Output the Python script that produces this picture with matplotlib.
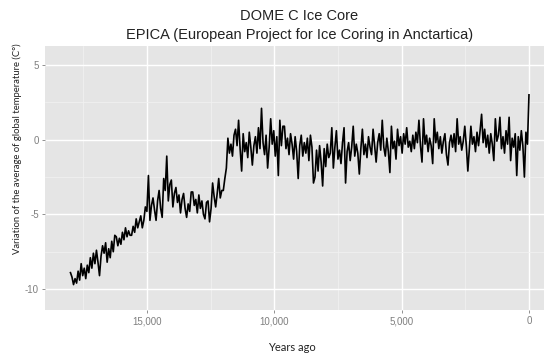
import numpy as np
import matplotlib
matplotlib.use("Agg")
import matplotlib.pyplot as plt

plt.rcParams['axes.unicode_minus'] = False

# temperature anomaly, one value every 60 years from 18,000 to 0 years ago
years = np.arange(18000, -1, -60)
temp = [
    -8.9, -9.2, -9.7, -9.3, -9.6, -8.8, -9.4, -8.3, -9.1, -8.6,
    -9.3, -8.4, -8.9, -7.9, -8.6, -7.6, -8.3, -7.4, -8.2, -9.1,
    -7.8, -7.1, -7.6, -6.9, -8.2, -7.3, -7.9, -6.8, -7.5, -6.4,
    -6.5, -7.1, -6.6, -7.0, -6.2, -6.7, -5.9, -6.5, -6.1, -6.4,
    -6.4, -5.8, -6.2, -5.3, -5.9, -5.5, -5.1, -5.9, -5.4, -4.5,
    -4.8, -2.4, -5.4, -4.4, -3.9, -4.7, -5.4, -4.1, -3.4, -4.6,
    -5.2, -2.6, -3.4, -1.1, -4.1, -3.0, -2.7, -4.5, -3.6, -3.2,
    -4.2, -3.7, -4.9, -4.0, -3.6, -4.6, -5.2, -4.3, -4.8, -3.5,
    -3.5, -4.4, -4.0, -4.9, -3.7, -4.6, -4.1, -5.0, -5.3, -4.2,
    -4.1, -5.5, -4.6, -2.9, -3.8, -4.5, -3.6, -2.6, -3.9, -3.4,
    -3.4, -2.6, -1.9, 0.1, -0.9, -0.3, -1.1, 0.3, 0.7, -0.4,
    1.3, -0.6, -2.1, 0.4, -0.8, -0.2, -1.2, 0.5, -0.5, -1.7,
    -0.4, 0.2, -0.9, 0.8, -0.6, 2.1, -0.2, -1.0, 0.3, -1.9,
    -0.5, 1.4, -0.3, 0.6, -1.1, 0.2, -2.4, 1.3, -0.4, 0.9,
    0.9, -0.6, 0.1, -1.0, 0.4, -0.3, -1.3, 0.2, -0.8, -2.6,
    -0.4, 0.3, -1.1, -0.2, -0.9, 0.1, -1.4, 0.3, -0.5, -2.9,
    -2.5, -0.7, -2.1, -0.4, -1.5, -3.1, -0.6, -1.8, -0.3, -1.2,
    -0.9, 0.8, -1.9, -0.5, 0.6, -1.3, -0.7, -1.6, -0.2, 0.8,
    -2.9, -0.8, -0.2, -1.4, -0.5, 0.9, -1.1, -0.3, -0.9, -2.3,
    -0.6, 0.7, -1.0, -0.3, -1.2, 0.2, -0.5, -1.0, 0.7, -0.4,
    -1.5, -0.2, 0.4, -0.7, 1.3, -0.5, -1.1, 0.1, -0.8, -2.2,
    0.9, -0.6, -0.1, -1.3, 0.7, -0.4, 0.2, -0.9, 0.4, -0.3,
    0.8, -0.5, -0.1, -0.8, 0.3, -0.6, 0.5, -0.2, 1.3, -0.4,
    -1.5, 1.4, -0.3, 0.3, -0.8, 0.1, -0.4, -1.6, 1.4, -0.2,
    0.5, -0.6, 0.2, -0.9, -0.1, 0.4, -1.0, -1.7, -0.2, 0.3,
    -0.5, 0.4, -0.8, 1.4, -0.3, 0.2, -0.7, -0.1, 0.9, -0.4,
    -2.1, -0.6, 0.9, -0.3, 0.2, -0.8, 0.5, -0.4, 0.6, 1.7,
    -0.2, 0.7, -0.5, 0.3, -0.9, 0.4, -0.3, -1.4, 1.4, -0.1,
    0.3, 1.5, -0.6, 0.2, -0.9, 0.6, -0.3, 1.5, -1.4, 0.1,
    -0.5, 0.4, -2.4, 0.2, -0.7, 0.6, -0.4, -2.5, 0.5, -0.3,
    3.0,
]

x_ticks = [15000, 10000, 5000, 0]
x_labels = ['15,000', '10,000', '5,000', '0']
x_minor = [17500, 12500, 7500, 2500]
y_ticks = [5, 0, -5, -10]
y_labels = ['5', '0', '-5', '-10']
y_minor = [2.5, -2.5, -7.5]

fig = plt.figure(figsize=(5.44, 3.53), dpi=100)
ax = fig.add_axes([45 / 544, 1 - 310 / 353, 499 / 544, 264 / 353])
ax.set_facecolor('#E5E5E5')
for s in ax.spines.values():
    s.set_visible(False)

ax.plot(years, temp, color='black', linewidth=1.2, zorder=3)

ax.set_xlim(19000, -590)
ax.set_ylim(-11.4, 6.27)

ax.set_xticks(x_ticks)
ax.set_xticklabels(x_labels)
ax.set_xticks(x_minor, minor=True)
ax.set_yticks(y_ticks)
ax.set_yticklabels(y_labels)
ax.set_yticks(y_minor, minor=True)

ax.grid(which='major', color='white', linewidth=1.0)
ax.grid(which='minor', color='#F2F2F2', linewidth=0.5)
ax.set_axisbelow(True)

ax.tick_params(which='major', length=2.5, width=0.6, color='#7F7F7F',
               labelcolor='#7F7F7F', labelsize=7, pad=2)
ax.tick_params(which='minor', length=0)
for lab in ax.get_xticklabels() + ax.get_yticklabels():
    lab.set_family(['Liberation Sans', 'DejaVu Sans'])

ax.set_xlabel('Years ago', family=['Lato', 'DejaVu Sans'], fontsize=8, color='#222222')
ax.set_ylabel('Variation of the average of global temperature (C°)',
              family=['Lato', 'DejaVu Sans'], fontsize=6.8, color='#222222')
ax.xaxis.set_label_coords(0.495, -0.12)
ax.yaxis.set_label_coords(-0.046, 0.61)

title_font = ['Liberation Sans', 'DejaVu Sans']
fig.text(0.55, 1 - 15.5 / 353, 'DOME C Ice Core', ha='center', va='center',
         fontsize=10.5, family=title_font, color='#222222')
fig.text(0.55, 1 - 34.5 / 353, 'EPICA (European Project for Ice Coring in Anctartica)',
         ha='center', va='center', fontsize=10.5, family=title_font, color='#222222')

fig.savefig('out.png', dpi=100)
